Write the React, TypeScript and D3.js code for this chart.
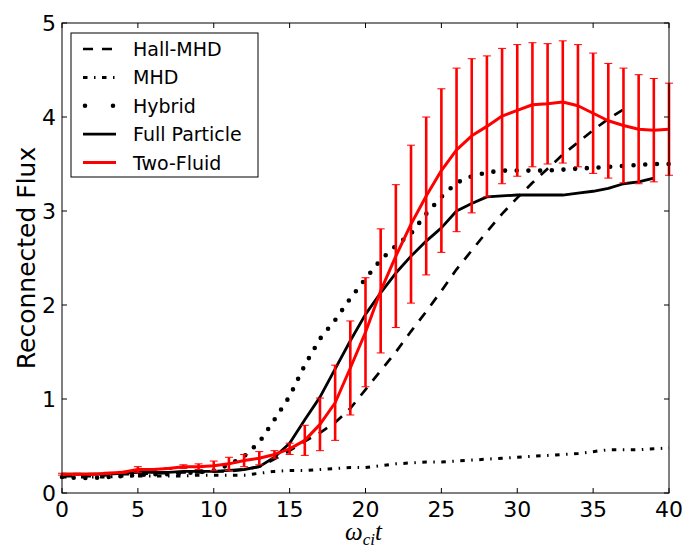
import React from 'react';
import * as d3 from 'd3';

// time axis (omega_ci t), one sample per unit
const time = [0, 1, 2, 3, 4, 5, 6, 7, 8, 9, 10, 11, 12, 13, 14, 15, 16, 17, 18, 19, 20,
  21, 22, 23, 24, 25, 26, 27, 28, 29, 30, 31, 32, 33, 34, 35, 36, 37, 38, 39, 40];

const hallMhd = [0.18, 0.18, 0.18, 0.19, 0.2, 0.2, 0.21, 0.21, 0.22, 0.22,
  0.23, 0.23, 0.25, 0.28, 0.36, 0.45, 0.55, 0.64, 0.75, 0.9,
  1.1, 1.3, 1.5, 1.72, 1.93, 2.15, 2.38, 2.58, 2.78, 2.97,
  3.14, 3.3, 3.45, 3.6, 3.73, 3.86, 3.98, 4.08];

const mhd = [0.17, 0.17, 0.17, 0.17, 0.18, 0.18, 0.18, 0.18, 0.18, 0.19,
  0.19, 0.19, 0.19, 0.21, 0.23, 0.24, 0.24, 0.25, 0.26, 0.27,
  0.27, 0.29, 0.31, 0.32, 0.33, 0.33, 0.34, 0.35, 0.36, 0.37,
  0.38, 0.39, 0.4, 0.41, 0.42, 0.44, 0.46, 0.46, 0.46, 0.47, 0.48];

const hybrid = [0.17, 0.16, 0.16, 0.17, 0.18, 0.19, 0.2, 0.2, 0.21, 0.22,
  0.24, 0.3, 0.39, 0.54, 0.78, 1.03, 1.36, 1.64, 1.84, 2.07,
  2.28, 2.48, 2.63, 2.76, 2.97, 3.15, 3.3, 3.37, 3.41, 3.43,
  3.43, 3.43, 3.43, 3.44, 3.45, 3.46, 3.47, 3.48, 3.49, 3.5, 3.5];

const fullParticle = [0.2, 0.2, 0.2, 0.2, 0.21, 0.22, 0.22, 0.22, 0.23, 0.23,
  0.23, 0.24, 0.25, 0.28, 0.38, 0.53, 0.78, 1.02, 1.32, 1.62,
  1.9, 2.13, 2.34, 2.52, 2.68, 2.82, 3.0, 3.08, 3.15, 3.16,
  3.17, 3.17, 3.17, 3.17, 3.19, 3.21, 3.24, 3.29, 3.31, 3.35];

const twoFluid = [0.2, 0.2, 0.2, 0.21, 0.22, 0.25, 0.25, 0.26, 0.28, 0.28,
  0.29, 0.31, 0.345, 0.37, 0.41, 0.47, 0.56, 0.73, 0.96, 1.33,
  1.71, 2.15, 2.52, 2.86, 3.16, 3.43, 3.65, 3.8, 3.9, 4.01,
  4.07, 4.13, 4.14, 4.16, 4.12, 4.04, 3.96, 3.91, 3.87, 3.86, 3.87];

const twoFluidErr = [0.01, 0.01, 0.01, 0.01, 0.01, 0.03, 0.01, 0.01, 0.02, 0.03,
  0.05, 0.07, 0.065, 0.07, 0.04, 0.06, 0.16, 0.28, 0.4, 0.5,
  0.58, 0.66, 0.76, 0.84, 0.84, 0.87, 0.87, 0.82, 0.75, 0.72,
  0.7, 0.66, 0.64, 0.65, 0.65, 0.64, 0.61, 0.61, 0.58, 0.55, 0.49];

const xTicks = [0, 5, 10, 15, 20, 25, 30, 35, 40];
const yTicks = [0, 1, 2, 3, 4, 5];
const seriesNames = ['Hall-MHD', 'MHD', 'Hybrid', 'Full Particle', 'Two-Fluid'];

const width = 684;
const height = 546;
const font = 'DejaVu Sans, sans-serif';

const x = d3.scaleLinear().domain([0, 40]).range([62, 669]);
const y = d3.scaleLinear().domain([0, 5]).range([493, 23]);

// line styles per series (old matplotlib look)
const styles = [
  { color: '#000', width: 2.7, dash: '10 9', cap: 'butt' },
  { color: '#000', width: 3, dash: '4.5 6.5 1.5 6.5', cap: 'butt' },
  { color: '#000', width: 4.6, dash: '0 11.7', cap: 'round' },
  { color: '#000', width: 2.8, dash: 'none', cap: 'butt' },
  { color: '#ff0000', width: 3, dash: 'none', cap: 'butt' },
];

const App = () => {
  const line = d3.line<number>()
    .x((d, i) => x(time[i]))
    .y(d => y(d))
    .curve(d3.curveLinear);

  const data = [hallMhd, mhd, hybrid, fullParticle, twoFluid];

  return (
    <svg width={width} height={height} style={{ position: 'absolute', left: 0, top: 0, background: '#fff' }}>
      <rect x={0} y={0} width={width} height={height} fill="#fff" />

      {data.map((vals, k) => (
        <path key={seriesNames[k]} d={line(vals) || ''} fill="none"
          stroke={styles[k].color} strokeWidth={styles[k].width}
          strokeDasharray={styles[k].dash} strokeLinecap={styles[k].cap as any}
          strokeLinejoin="round" />
      ))}

      {/* error bars on the two-fluid curve */}
      {twoFluid.map((v, i) => {
        const cx = x(time[i]);
        const y0 = y(v - twoFluidErr[i]);
        const y1 = y(v + twoFluidErr[i]);
        return (
          <g key={'eb' + i} stroke="#ff0000">
            <line x1={cx} x2={cx} y1={y0} y2={y1} strokeWidth={2.6} />
            <line x1={cx - 4} x2={cx + 4} y1={y0} y2={y0} strokeWidth={1} />
            <line x1={cx - 4} x2={cx + 4} y1={y1} y2={y1} strokeWidth={1} />
          </g>
        );
      })}

      {/* frame */}
      <rect x={x(0)} y={y(5)} width={x(40) - x(0)} height={y(0) - y(5)} fill="none" stroke="#000" strokeWidth={1} />

      {xTicks.map(t => (
        <g key={'xt' + t}>
          <line x1={x(t)} x2={x(t)} y1={y(0)} y2={y(0) - 5} stroke="#000" />
          <line x1={x(t)} x2={x(t)} y1={y(5)} y2={y(5) + 5} stroke="#000" />
          <text x={x(t)} y={y(0) + 24} textAnchor="middle" fontFamily={font} fontSize={22}>{t}</text>
        </g>
      ))}
      {yTicks.map(t => (
        <g key={'yt' + t}>
          <line x1={x(0)} x2={x(0) + 5} y1={y(t)} y2={y(t)} stroke="#000" />
          <line x1={x(40)} x2={x(40) - 5} y1={y(t)} y2={y(t)} stroke="#000" />
          <text x={56} y={y(t) + 8} textAnchor="end" fontFamily={font} fontSize={22}>{t}</text>
        </g>
      ))}

      <text transform={`translate(35,${(y(0) + y(5)) / 2}) rotate(-90)`} textAnchor="middle"
        fontFamily={font} fontSize={25}>Reconnected Flux</text>

      <text x={x(20) - 2} y={540} textAnchor="middle" fontFamily="Liberation Serif, serif" fontStyle="italic" fontSize={25}>
        ω<tspan fontSize={17} dy={5}>ci</tspan><tspan dy={-5}>t</tspan>
      </text>

      {/* legend */}
      <g>
        <rect x={71} y={33} width={187} height={144} fill="#fff" stroke="#000" strokeWidth={1} />
        {seriesNames.map((name, k) => {
          const cy = 49 + k * 28.4;
          return (
            <g key={'lg' + name}>
              <line x1={83} x2={116} y1={cy} y2={cy} stroke={styles[k].color}
                strokeWidth={styles[k].width} strokeDasharray={k === 2 ? '0 28' : styles[k].dash}
                strokeLinecap={styles[k].cap as any} transform={k === 2 ? 'translate(2,0)' : undefined} />
              <text x={133} y={cy + 7} fontFamily={font} fontSize={19}>{name}</text>
            </g>
          );
        })}
      </g>
    </svg>
  );
};

export default App;
